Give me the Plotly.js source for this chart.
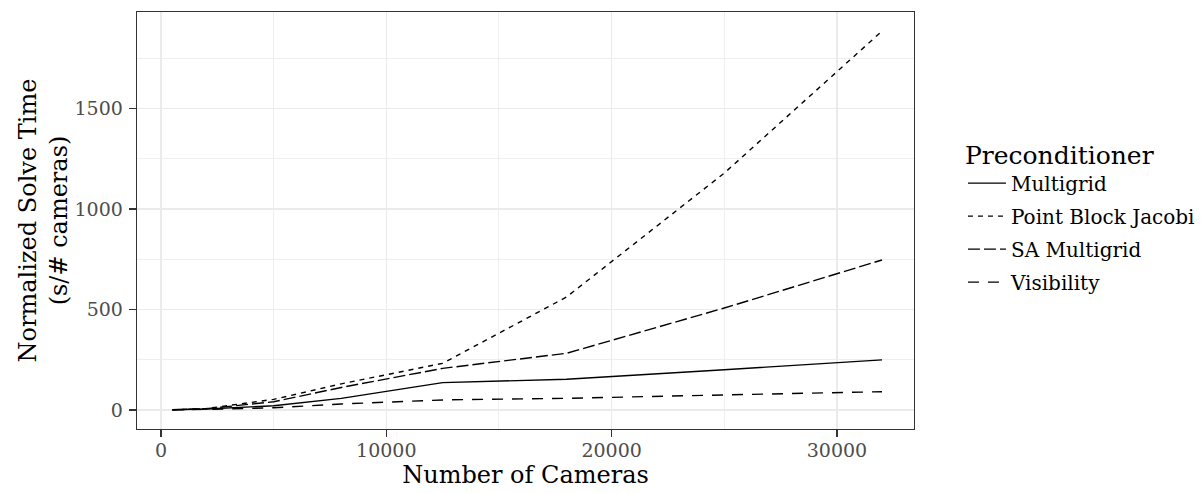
<!DOCTYPE html>
<html>
<head>
<meta charset="utf-8">
<script src="https://cdn.plot.ly/plotly-3.0.1.min.js"></script>
<style>html,body{margin:0;padding:0;background:#fff;}#chart{width:1204px;height:493px;}</style>
</head>
<body>
<div id="chart"></div>
<script>
const cameras = [500, 2000, 5000, 8000, 12500, 18000, 25000, 32000];
const multigrid = [1, 5, 21, 58, 136, 153, 200, 249];
const pointBlockJacobi = [1, 7, 53, 130, 232, 562, 1178, 1884];
const saMultigrid = [1, 6, 41, 112, 207, 282, 507, 746];
const visibility = [1, 3, 11, 30, 50, 58, 75, 91];
const seriesNames = ["Multigrid", "Point Block Jacobi", "SA Multigrid", "Visibility"];
const seriesValues = [multigrid, pointBlockJacobi, saMultigrid, visibility];
const dashes = ["solid", "5px,5px", "12px,4px", "11px,9px"];

const FONT = "DejaVu Serif";
const traces = seriesNames.map((n, i) => ({
  type: "scatter", mode: "lines", name: n, x: cameras, y: seriesValues[i],
  legendgroup: "g" + i,
  line: {color: "#000000", width: 1.4, dash: dashes[i]}
}));

const axisCommon = {
  showline: true, mirror: true, linecolor: "#333333", linewidth: 1.3,
  ticks: "outside", ticklen: 7, tickwidth: 1.3, tickcolor: "#333333",
  showgrid: true, gridcolor: "#EBEBEB", gridwidth: 1.4,
  zeroline: false,
  tickfont: {family: FONT, size: 19, color: "#4D4D4D"}
};

const layout = {
  width: 1204, height: 493,
  margin: {l: 137, r: 290, t: 12, b: 64},
  paper_bgcolor: "#ffffff", plot_bgcolor: "#ffffff",
  font: {family: FONT, color: "#000000"},
  showlegend: true,
  xaxis: Object.assign({}, axisCommon, {
    range: [-1065, 33420], tickvals: [0, 10000, 20000, 30000], ticktext: ["0", "10000", "20000", "30000"],
    ticklabelstandoff: -3,
    minor: {tickvals: [5000, 15000, 25000], showgrid: true, gridcolor: "#EBEBEB", gridwidth: 0.8, ticks: ""},
    title: {text: "Number of Cameras", font: {family: FONT, size: 24, color: "#000000"}, standoff: 2}
  }),
  yaxis: Object.assign({}, axisCommon, {
    range: [-94.5, 1979], tickvals: [0, 500, 1000, 1500], ticktext: ["0", "500", "1000", "1500"],
    ticklabelstandoff: 2,
    minor: {tickvals: [250, 750, 1250, 1750], showgrid: true, gridcolor: "#EBEBEB", gridwidth: 0.8, ticks: ""},
    title: {text: "Normalized Solve Time<br>(s/# cameras)", font: {family: FONT, size: 24, color: "#000000"}, standoff: 0}
  }),
  legend: {
    xref: "container", yref: "container",
    x: 0.7998, xanchor: "left", y: 0.734, yanchor: "top",
    bgcolor: "rgba(0,0,0,0)",
    font: {family: FONT, size: 20, color: "#000000"},
    title: {text: "Preconditioner", font: {family: FONT, size: 25, color: "#000000"}},
    itemwidth: 38,
    tracegroupgap: 4
  }
};

Plotly.newPlot("chart", traces, layout, {staticPlot: true, displayModeBar: false});
</script>
</body>
</html>
